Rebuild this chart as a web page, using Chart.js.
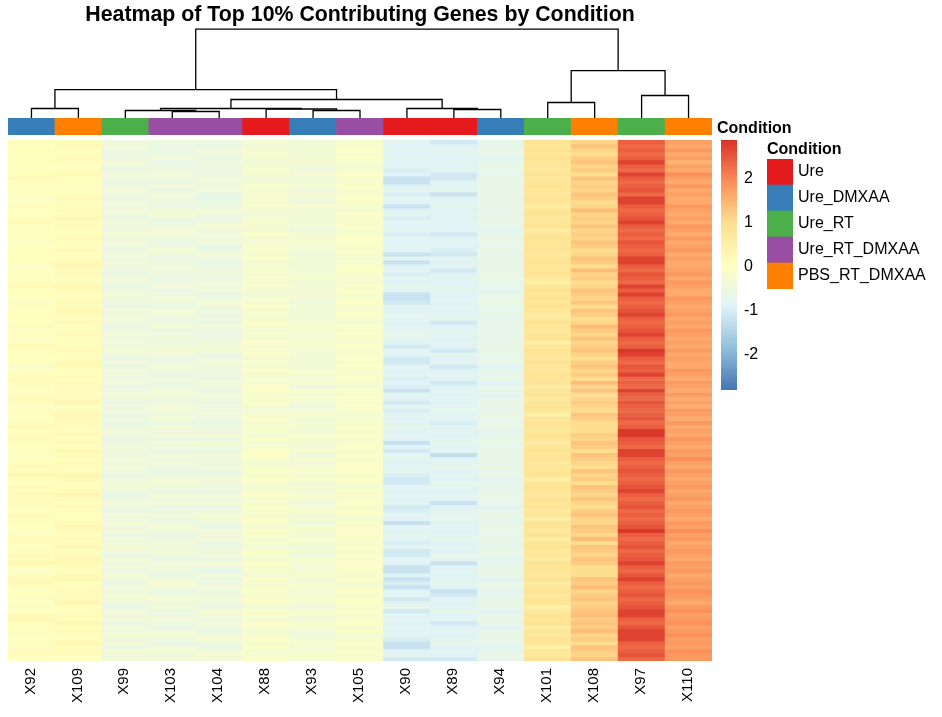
<!DOCTYPE html>
<html><head><meta charset="utf-8">
<script src="https://cdn.jsdelivr.net/npm/chart.js@4"></script>
<style>
html,body{margin:0;padding:0;background:#fff;overflow:hidden}
canvas{position:absolute;display:block}
</style></head><body>
<canvas id="dendro" style="left:0px;top:0px" width="720" height="120"></canvas>
<canvas id="strip" style="left:0px;top:118px" width="712" height="17"></canvas>
<canvas id="heat" style="left:0px;top:140px" width="720" height="577"></canvas>
<canvas id="bar" style="left:721px;top:140px" width="60" height="250"></canvas>
<canvas id="legend" style="left:767px;top:140px" width="175" height="149"></canvas>
<canvas id="stripLabel" style="left:717px;top:119px" width="90" height="22"></canvas>
<script>
const titleText = "Heatmap of Top 10% Contributing Genes by Condition";
const annotationName = "Condition";
const samples = ["X92","X109","X99","X103","X104","X88","X93","X105","X90","X89","X94","X101","X108","X97","X110"];
const conditions = ["Ure","Ure_DMXAA","Ure_RT","Ure_RT_DMXAA","PBS_RT_DMXAA"];
const conditionColors = ["#E41A1C","#377EB8","#4DAF4A","#984EA3","#FF7F00"];
const sampleCondition = [1,4,2,3,3,0,1,3,0,0,1,2,4,2,4];
const paletteStops = ["#4575B4","#91BFDB","#E0F3F8","#FFFFBF","#FEE090","#FC8D59","#D73027"];
const scaleMin = -2.81, scaleMax = 2.88;
const barTicks = [-2,-1,0,1,2];
// merges: [left child, right child, height]; child >= 0 is a column, "m3" is an earlier merge
const merges = [[0,1,9.5],[3,4,6.5],[2,"m1",7.5],[6,7,7.5],[5,"m3",9],["m2","m4",9.5],[9,10,8.5],[8,"m6",9.5],["m5","m7",18.5],["m0","m8",28.5],[11,12,15.5],[13,14,22.5],["m10","m11",47.5],["m9","m12",89]];

const X92 = [.1,0,.1,.1,0,.1,0,0,.1,.2, 0,.1,0,.1,-.1,0,.1,0,0,.1, .2,0,.1,.1,0,-.1,0,.1,0,.1, .1,-.1,0,.1,0,.1,.2,0,.1,0, -.1,.1,0,.1,.1,0,.2,-.1,.1,-.1, .1,.2,0,.1,0,.1,-.2,0,.1,.2, .1,.1,0,.1,.2,.1,0,.1,.1,0, .1,.2,0,.1,.2,.1,0,.1,-.1,.1, .1,.2,.1,.3,.1,0,.2,.1,.2,.1, .2,.1,0,.2,.1,.1,0,-.1,.1,.2, .1,0,.1,.2,.1,.3,0,-.1,.1,.2, .2,.1,0,.1,-.1,0,-.1,0,.2,.3, .1,0,.1,-.1,0,.1,-.1,.2,.1,0];
const X109 = [.1,.2,.1,.1,.2,.1,0,.1,.2,.1, .1,.1,0,.1,.2,.1,.1,.2,.1,.3, .1,.2,.1,.1,.2,.1,.1,.2,.1,.1, .2,.3,.1,.2,.1,.1,.3,.2,.1,.1, .2,.1,.3,.1,.1,.2,.1,.1,.2,.1, .1,.1,.2,.1,.1,.3,.2,.1,.1,.1, .2,.1,.2,.1,.2,.3,.1,.1,.3,.2, .2,.1,.1,.2,.1,.2,.1,.3,.1,.1, .2,.1,.1,.3,.2,.1,.1,.2,.3,.1, .1,.2,.1,.1,.1,.2,.3,.1,.1,.2, .1,.3,.1,.2,.3,.2,.1,.1,.2,.3, .1,.1,.2,.1,.2,.3,.1,.1,.2,.1, .3,.1,.2,.1,.1,.3,.1,.2,.1,0];
const X99 = [-.5,-.4,-.5,-.6,-.5,-.4,-.5,-.6,-.4,-.5, -.6,-.5,-.4,-.5,-.6,-.4,-.5,-.4,-.5,-.6, -.4,-.5,-.5,-.3,-.5,-.4,-.5,-.6,-.4,-.5, -.4,-.5,-.5,-.6,-.4,-.5,-.6,-.5,-.4,-.5, -.5,-.6,-.4,-.5,-.4,-.5,-.6,-.5,-.4,-.5, -.4,-.5,-.3,-.5,-.6,-.4,-.6,-.4,-.5,-.5, -.4,-.6,-.5,-.4,-.5,-.6,-.5,-.4,-.6,-.5, -.6,-.5,-.4,-.5,-.6,-.5,-.4,-.5,-.5,-.4, -.5,-.4,-.5,-.6,-.5,-.4,-.4,-.5,-.6,-.5, -.4,-.5,-.6,-.4,-.5,-.4,-.5,-.4,-.6,-.4, -.5,-.3,-.5,-.6,-.4,-.5,-.4,-.6,-.3,-.5, -.6,-.4,-.5,-.3,-.4,-.5,-.6,-.4,-.5,-.4, -.6,-.4,-.5,-.3,-.5,-.4,-.6,-.3,-.5,-.4];
const X103 = [-.5,-.6,-.6,-.5,-.4,-.7,-.5,-.5,-.4,-.5, -.6,-.4,-.6,-.4,-.5,-.5,-.6,-.4,-.3,-.5, -.6,-.5,-.4,-.4,-.5,-.6,-.5,-.3,-.5,-.6, -.5,-.4,-.5,-.5,-.6,-.5,-.4,-.6,-.5,-.4, -.5,-.6,-.3,-.4,-.6,-.5,-.3,-.6,-.4,-.5, -.5,-.4,-.3,-.4,-.6,-.5,-.4,-.5,-.6,-.4, -.6,-.5,-.4,-.4,-.5,-.5,-.3,-.4,-.5,-.3, -.6,-.4,-.5,-.4,-.6,-.4,-.5,-.6,-.4,-.5, -.4,-.6,-.6,-.5,-.4,-.3,-.5,-.6,-.4,-.5, -.4,-.6,-.5,-.4,-.6,-.5,-.3,-.5,-.6,-.5, -.4,-.5,-.3,-.5,-.6,-.4,-.5,-.5,-.6,-.4, -.3,-.4,-.6,-.5,-.3,-.5,-.4,-.6,-.5,-.4, -.5,-.6,-.4,-.3,-.5,-.6,-.4,-.3,-.5,-.4];
const X104 = [-.5,-.6,-.4,-.5,-.6,-.5,-.6,-.5,-.6,-.4, -.5,-.5,-.4,-.6,-.7,-.5,-.6,-.4,-.5,-.6, -.5,-.3,-.5,-.4,-.5,-.4,-.7,-.5,-.4,-.5, -.6,-.6,-.5,-.5,-.6,-.4,-.5,-.4,-.6,-.5, -.3,-.5,-.5,-.6,-.5,-.6,-.4,-.6,-.6,-.5, -.5,-.3,-.4,-.6,-.5,-.4,-.5,-.5,-.5,-.6, -.4,-.5,-.6,-.4,-.5,-.6,-.5,-.5,-.4,-.6, -.6,-.5,-.5,-.4,-.6,-.3,-.5,-.6,-.4,-.5, -.5,-.4,-.6,-.5,-.4,-.5,-.5,-.6,-.4,-.5, -.4,-.6,-.5,-.3,-.4,-.5,-.6,-.4,-.5,-.4, -.6,-.5,-.5,-.4,-.6,-.4,-.5,-.7,-.4,-.6, -.5,-.4,-.5,-.5,-.4,-.5,-.6,-.3,-.4,-.5, -.4,-.5,-.6,-.4,-.3,-.5,-.6,-.4,-.3,-.4];
const X88 = [-.3,-.4,-.3,-.2,-.3,-.4,-.3,-.2,-.3,-.4, -.3,-.2,-.3,-.3,-.2,-.3,-.2,-.3,-.4,-.3, -.2,-.3,-.3,-.1,-.3,-.3,-.2,-.2,-.3,-.1, -.3,-.3,-.2,-.3,-.2,-.3,-.2,-.3,-.4,-.2, -.3,-.1,-.3,-.2,-.3,-.1,-.2,-.3,-.2,-.3, -.1,-.3,-.2,-.1,-.3,-.2,-.3,-.1,-.3,-.2, -.3,-.1,-.1,-.2,-.2,-.1,-.3,-.4,-.2,-.1, -.3,-.2,-.2,-.3,-.1,-.3,-.2,-.1,-.1,-.2, -.3,-.2,-.1,-.2,-.1,-.2,-.3,-.2,-.1,-.3, -.2,-.1,-.2,-.3,-.1,-.2,-.3,-.1,-.2,-.3, -.2,-.4,-.1,-.2,-.3,-.1,-.2,-.2,-.4,-.1, -.3,-.2,-.1,-.3,-.1,-.2,-.4,-.1,-.2,-.3, -.1,-.2,-.3,-.2,-.1,-.2,-.1,-.3,-.2,-.1];
const X93 = [-.4,-.4,-.3,-.4,-.3,-.3,-.4,-.5,-.3,-.4, -.4,-.3,-.5,-.3,-.4,-.5,-.2,-.4,-.3,-.4, -.3,-.4,-.5,-.3,-.3,-.2,-.4,-.3,-.5,-.3, -.4,-.4,-.3,-.4,-.2,-.4,-.3,-.4,-.3,-.4, -.5,-.3,-.4,-.3,-.4,-.3,-.2,-.3,-.4,-.3, -.2,-.3,-.4,-.3,-.4,-.3,-.4,-.2,-.3,-.4, -.2,-.5,-.2,-.3,-.2,-.4,-.5,-.3,-.2,-.4, -.3,-.3,-.4,-.2,-.3,-.3,-.4,-.2,-.5,-.3, -.4,-.3,-.2,-.3,-.2,-.4,-.3,-.4,-.2,-.3, -.5,-.3,-.2,-.4,-.3,-.5,-.2,-.3,-.4,-.2, -.3,-.4,-.3,-.5,-.2,-.3,-.4,-.3,-.2,-.4, -.3,-.2,-.4,-.3,-.2,-.3,-.5,-.2,-.3,-.4, -.2,-.3,-.4,-.5,-.3,-.2,-.4,-.3,-.2,-.3];
const X105 = [-.2,-.2,-.1,-.2,-.1,-.2,-.3,-.2,-.1,-.2, -.2,-.1,-.2,-.2,-.1,-.2,-.2,-.3,-.1,-.2, -.2,-.1,-.2,-.2,-.1,-.1,-.2,-.1,-.2,-.3, -.2,-.1,-.1,-.2,-.2,-.3,-.2,-.1,-.2,-.2, -.1,-.2,-.2,-.1,-.2,-.3,-.1,-.2,-.1,-.2, -.2,-.1,-.2,-.2,-.1,-.2,-.1,-.2,-.2,-.1, -.2,-.3,-.1,-.2,-.1,-.2,-.1,-.2,-.3,-.2, -.2,-.1,-.2,-.1,-.2,-.2,-.1,-.2,-.1,-.2, -.1,-.1,-.1,-.2,-.1,-.2,-.3,-.1,-.2,-.2, -.1,-.2,-.1,-.2,-.3,-.1,-.2,-.1,-.1,-.2, -.2,-.1,-.2,-.1,-.2,-.1,-.1,-.2,-.2,-.1, -.3,-.2,-.1,-.2,-.1,-.1,-.2,-.1,-.2,-.2, -.1,-.2,-.1,-.3,-.2,-.1,-.2,-.1,-.2,-.1];
const X90 = [-.8,-.9,-.8,-.9,-.8,-.9,-.8,-1,-.9,-1.2, -1.2,-.9,-.8,-1,-.8,-.9,-1.2,-.9,-.8,-1, -.8,-.9,-.8,-1,-.8,-.9,-.8,-.9,-1.2,-.8, -1.2,-.9,-.8,-1,-.8,-.9,-.7,-.9,-1.2,-1.2, -1.1,-.8,-.9,-.7,-.8,-.9,-.8,-.8,-.7,-.8, -.9,-1.1,-.8,-.9,-1.1,-1.1,-.8,-.9,-.8,-1, -.9,-1,-1.2,-.8,-.9,-1.1,-.8,-1,-.8,-.9, -.8,-.7,-.9,-.8,-.9,-1.2,-.9,-1.1,-.8,-.8, -.9,-.8,-.8,-1,-1.1,-1.1,-.8,-.9,-.8,-.9, -.8,-1.1,-1,-.8,-.9,-1.2,-.8,-.9,-.7,-.9, -1,-.8,-1.1,-1.1,-.8,-.9,-1.2,-1.2,-.9,-1.2, -1,-1.2,-.9,-.8,-1.1,-.8,-.7,-1.1,-.9,-.8, -.9,-.8,-.9,-.8,-1,-1.2,-1.2,-.9,-.8,-1.1];
const X89 = [-1.1,-.9,-.8,-.8,-.9,-.8,-.9,-.8,-1.1,-1.1, -.9,-.8,-.8,-1.2,-.9,-.8,-.8,-.9,-.8,-.9, -.8,-.9,-.8,-1.1,-.9,-.8,-.9,-1,-1.1,-.8, -.9,-.8,-1.1,-.9,-.8,-.9,-.8,-.8,-.9,-.8, -.9,-.8,-.9,-.8,-.8,-1.1,-.9,-.8,-.8,-.9, -.8,-.9,-1.1,-.8,-.9,-.8,-1.1,-.9,-.8,-.9, -1.1,-.9,-.8,-.9,-.8,-.9,-.8,-.7,-.9,-.8, -1,-.9,-.8,-.9,-.8,-.7,-.9,-.8,-1.3,-.9, -.8,-.7,-.9,-.8,-.9,-.7,-.8,-.9,-.8,-.9, -1.2,-.9,-.8,-.8,-.7,-.9,-.8,-.9,-.8,-.7, -.9,-.8,-.9,-.7,-.8,-1.2,-.9,-.8,-.9,-.8, -.8,-.9,-1.2,-1.1,-.8,-.9,-.8,-.7,-.9,-.8, -1.1,-.9,-.8,-.9,-.8,-.7,-.9,-.8,-.9,-1.1];
const X94 = [-.7,-.7,-.6,-.7,-.8,-.7,-.6,-.7,-.7,-.6, -.7,-.6,-.7,-.6,-.7,-.6,-.7,-.7,-.6,-.7, -.6,-.7,-.8,-.7,-.6,-.7,-.7,-.6,-.7,-.6, -.7,-.6,-.7,-.6,-.6,-.7,-.7,-.8,-.7,-.6, -.6,-.7,-.7,-.6,-.8,-.6,-.7,-.6,-.7,-.7, -.6,-.7,-.6,-.7,-.7,-.6,-.9,-.7,-.7,-.6, -.9,-.7,-.7,-.8,-.7,-.6,-.7,-.7,-.6,-.7, -.7,-.6,-.8,-.7,-.6,-.7,-.7,-.6,-.7,-.6, -.7,-.6,-.7,-.6,-.8,-.7,-.7,-.7,-.6,-.7, -.7,-.8,-.7,-.6,-.7,-.7,-.6,-.7,-.7,-.6, -.7,-.7,-.6,-.7,-.8,-.7,-.7,-.6,-.7,-.8, -.7,-.6,-.8,-.7,-.7,-.6,-.7,-.8,-.7,-.6, -.7,-.8,-.7,-.6,-.7,-.7,-.8,-.7,-.6,-.7];
const X101 = [.9,.8,.9,.8,.9,.8,.8,.7,.9,.7, .8,.9,.8,.7,.9,.8,.6,.8,.9,.7, .8,.9,.6,.8,.9,.8,.8,.9,.7,.8, .9,.8,.8,.9,.7,.5,.8,.9,.8,.9, .8,.9,.8,.6,.7,.9,.8,.7,.8,.9, .5,.8,.9,.8,.7,.9,.8,.7,.9,.8, .9,.6,.8,.9,.7,.8,.9,.8,.5,.8, .9,.8,.7,.9,.8,.6,.8,.9,.8,.9, .7,.8,.8,.9,.5,.8,.9,.8,.7,.9, .8,.9,.7,.8,.5,.9,.8,.7,.9,.6, .8,.9,.7,.8,.6,.9,.8,.8,.7,.9, .6,.8,.9,.7,.9,.8,.5,.7,.9,.8, .9,.6,.8,.7,.9,.8,.5,.8,.7,.9];
const X108 = [1.1,1.3,1.1,1,1.2,1.3,1.1,1.2,1,1.3, 1.1,1.2,1.1,1.3,1.2,1,1.1,1.4,1.1,1.2, 1.1,1.3,1.1,1.2,1.1,1.3,1.2,1,1.1,1.3, 1.2,1,1.4,1.1,1.2,1,1.1,1.3,1.2,1.1, 1.3,1,1.3,1.2,1,1.1,1.4,1.2,1.1,1.3, 1.1,1.2,1.3,1.1,1,1.2,1.3,1.1,1.2,1, 1.4,1.1,1.3,1,1.1,1.2,1.1,1,1.3,1.2, 1,1,1,1.2,1.1,1.3,1.2,1,1.3,1.2, 1.1,1,1.3,1.1,1.2,1,1.3,1.2,1.1,1.3, 1.1,1,1.2,1.3,1.1,1.1,1.3,1.2,1.1,1.4, 1,1.3,1.2,1.1,1.3,1.2,1,1,1,1.3, 1.2,1.4,1.1,1.2,1.3,1.1,1.2,1.3,1.4,1.2, 1.3,1.2,1.4,1.1,1.2,1,1.3,1.2,1.1,1.3];
const X97 = [2.4,2.3,2.4,2.3,2.4,2.7,2.4,2.3,2.7,2.4, 2.3,2.4,2.5,2.3,2.7,2.7,2.4,2.3,2.4,2.5, 2.7,2.4,2.3,2.4,2.3,2.5,2.4,2.3,2.4,2.7, 2.7,2.4,2.3,2.5,2.4,2.3,2.7,2.4,2.7,2.4, 2.3,2.4,2.5,2.7,2.4,2.3,2.4,2.5,2.7,2.4, 2.3,2.4,2.8,2.7,2.4,2.3,2.5,2.4,2.7,2.3, 2.4,2.3,2.7,2.4,2.3,2.5,2.4,2.3,2.4,2.5, 2.3,2.4,2.8,2.8,2.5,2.4,2.3,2.7,2.7,2.4, 2.3,2.4,2.5,2.4,2.3,2.4,2.5,2.7,2.4,2.3, 2.4,2.5,2.3,2.4,2.3,2.4,2.5,2.8,2.4,2.3, 2.4,2.5,2.3,2.4,2.5,2.7,2.4,2.3,2.5,2.7, 2.4,2.3,2.4,2.5,2.3,2.4,2.5,2.7,2.7,2.4, 2.3,2.5,2.7,2.7,2.7,2.4,2.3,2.4,2.5,2.3];
const X110 = [1.7,1.6,1.8,1.6,1.7,1.5,1.7,1.6,1.9,1.7, 1.6,1.8,1.6,1.7,1.6,1.6,1.8,1.7,1.6,1.7, 1.6,1.8,1.7,1.6,1.8,1.6,1.7,1.8,1.6,1.7, 1.6,1.6,1.7,1.8,1.6,1.8,1.7,1.6,1.6,1.8, 1.7,1.6,1.7,1.8,1.6,1.7,1.6,1.8,1.7,1.6, 1.7,1.6,1.8,1.6,1.7,1.6,1.6,1.8,1.7,1.6, 1.8,1.7,1.6,1.8,1.6,1.7,1.6,1.8,1.7,1.6, 1.8,1.6,1.7,1.6,1.8,1.7,1.6,1.8,1.7,1.9, 1.7,1.6,1.8,1.7,1.6,1.7,1.8,1.6,1.7,1.8, 1.6,1.7,1.8,1.7,1.6,1.8,1.7,1.9,1.7,1.8, 1.6,1.7,1.8,1.7,1.6,1.8,1.7,1.8,1.6,1.7, 1.8,1.7,1.9,1.8,1.7,1.6,1.8,1.9,1.7,1.8, 1.9,1.7,1.8,1.9,1.7,1.8,1.7,1.9,1.8,1.8];
const columns = [X92,X109,X99,X103,X104,X88,X93,X105,X90,X89,X94,X101,X108,X97,X110];

function hexRgb(h){return [1,3,5].map(i=>parseInt(h.slice(i,i+2),16));}
function colorFor(v){
  let t=(v-scaleMin)/(scaleMax-scaleMin)*(paletteStops.length-1);
  t=Math.max(0,Math.min(paletteStops.length-1.0001,t));
  const i=Math.floor(t),f=t-i,a=hexRgb(paletteStops[i]),b=hexRgb(paletteStops[i+1]);
  return `rgb(${a.map((c,k)=>Math.round(c+(b[k]-c)*f)).join(",")})`;
}
Chart.defaults.animation=false;
Chart.defaults.responsive=false;
Chart.defaults.devicePixelRatio=1;
Chart.defaults.font.family='"Liberation Sans", Arial, sans-serif';
Chart.defaults.color='#000';
Chart.defaults.plugins.legend.display=false;
Chart.defaults.plugins.tooltip.enabled=false;
const fullBar={barPercentage:1,categoryPercentage:1,borderWidth:0};

// dendrogram
function nodeInfo(ref,done){return typeof ref==="number"?{x:ref+.5,h:0}:done[+ref.slice(1)];}
const done=[];
const dendroSets=merges.map(([a,b,h])=>{
  const A=nodeInfo(a,done),B=nodeInfo(b,done);
  done.push({x:(A.x+B.x)/2,h});
  return {data:[{x:A.x,y:A.h},{x:A.x,y:h},{x:B.x,y:h},{x:B.x,y:B.h}],showLine:true,pointRadius:0,borderColor:"#000",borderWidth:1.3,clip:false,tension:0};
});
new Chart(document.getElementById("dendro"),{type:"scatter",data:{datasets:dendroSets},options:{
  layout:{padding:{left:8,right:8,top:0,bottom:2}},
  plugins:{title:{display:true,text:titleText,font:{size:21.33,weight:"bold",lineHeight:1.2},padding:{top:2.5,bottom:1},color:"#000"}},
  scales:{x:{display:false,min:0,max:15},y:{display:false,min:0,max:89}}
}});

// annotation strip
new Chart(document.getElementById("strip"),{type:"bar",data:{labels:samples,datasets:[{data:samples.map(()=>1),backgroundColor:sampleCondition.map(i=>conditionColors[i]),...fullBar}]},options:{
  layout:{padding:{left:8}},
  scales:{x:{display:false},y:{type:"linear",display:false,min:0,max:1}}
}});

// heat map
const rowCount=X92.length;
const rowSets=[];
for(let r=0;r<rowCount;r++){
  rowSets.push({data:samples.map(()=>1),backgroundColor:columns.map(c=>colorFor(c[r])),stack:"s",...fullBar});
}
new Chart(document.getElementById("heat"),{type:"bar",data:{labels:samples,datasets:rowSets},options:{
  layout:{padding:{left:8,right:8}},
  scales:{
    x:{stacked:true,grid:{display:false,drawTicks:false},border:{display:false},afterFit(s){s.height=56;},
       ticks:{minRotation:90,maxRotation:90,autoSkip:false,padding:7,labelOffset:-1,font:{size:15}}},
    y:{stacked:true,display:false,reverse:true,min:0,max:rowCount}
  }
}});

// colour bar
const barSets=[];
const steps=100;
for(let i=0;i<steps;i++){
  const lo=scaleMin+(scaleMax-scaleMin)*i/steps, hi=scaleMin+(scaleMax-scaleMin)*(i+1)/steps;
  barSets.push({data:[[lo,hi]],backgroundColor:colorFor((lo+hi)/2),...fullBar,grouped:false});
}
new Chart(document.getElementById("bar"),{type:"bar",data:{labels:["Colour scale"],datasets:barSets},options:{
  scales:{
    x:{display:false},
    y:{position:"right",min:scaleMin,max:scaleMax,grid:{display:false,drawTicks:false},border:{display:false},
       afterFit(s){s.width=44;s.paddingTop=0;s.paddingBottom=0;},
       afterBuildTicks(s){s.ticks=barTicks.map(v=>({value:v}));},
       ticks:{padding:7,font:{size:16},callback:v=>String(v)}}
  }
}});

// condition legend
new Chart(document.getElementById("legend"),{type:"bar",data:{labels:conditions,datasets:[{data:conditions.map(()=>1),backgroundColor:conditionColors,...fullBar}]},options:{
  indexAxis:"y",
  plugins:{title:{display:true,text:annotationName,align:"start",font:{size:16,weight:"bold",lineHeight:1.1875},padding:{top:0,bottom:0},color:"#000"}},
  scales:{
    x:{display:false,min:0,max:1},
    y:{position:"right",grid:{display:false,drawTicks:false},border:{display:false},
       afterFit(s){s.width=149;s.paddingTop=0;s.paddingBottom=0;},ticks:{padding:5,font:{size:16}}}
  }
}});

// the annotation name beside the strip
new Chart(document.getElementById("stripLabel"),{type:"bar",data:{labels:[],datasets:[]},options:{
  plugins:{title:{display:true,text:annotationName,align:"start",font:{size:16,weight:"bold",lineHeight:1.1875},padding:{top:0,bottom:0},color:"#000"}},
  scales:{x:{display:false},y:{display:false}}
}});
</script>
</body></html>
